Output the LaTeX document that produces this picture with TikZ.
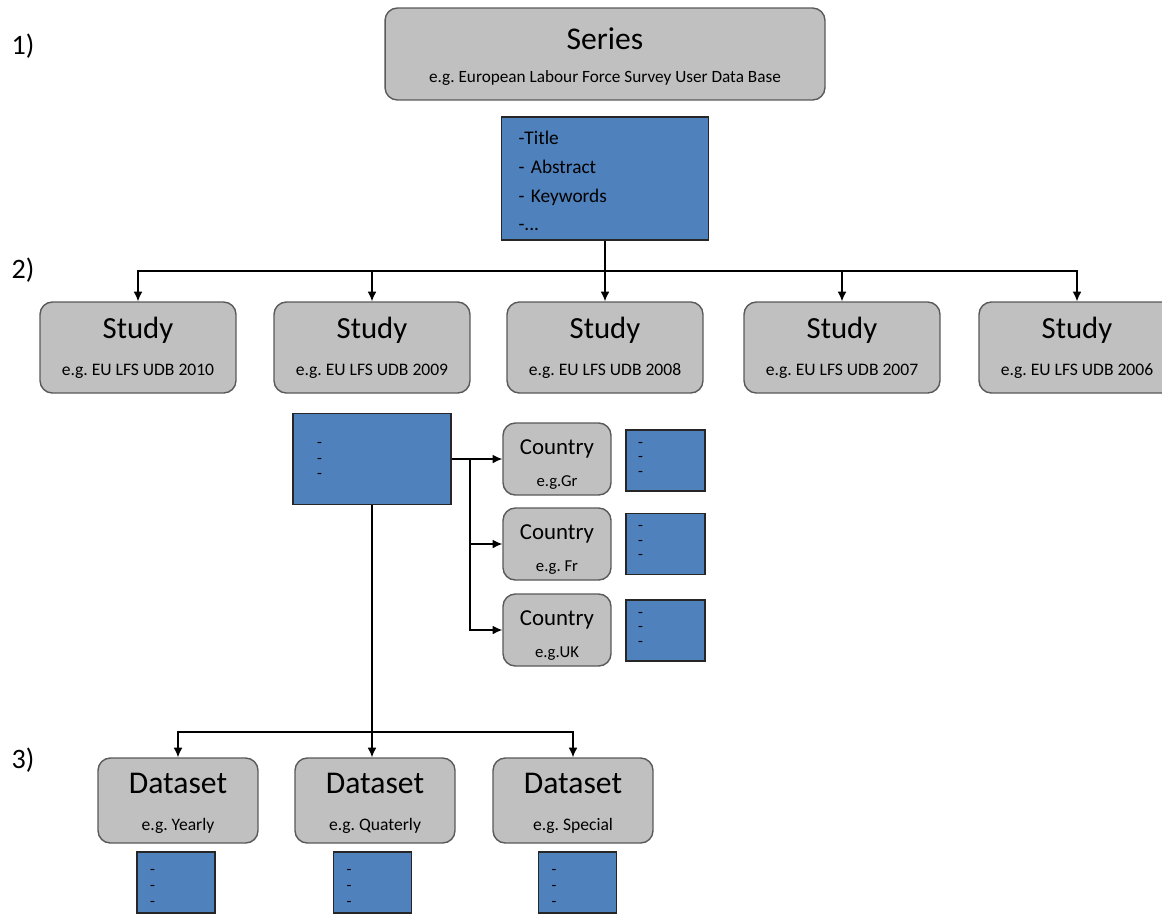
\documentclass[tikz,border=0pt]{standalone}
\usepackage{fontspec}
\setmainfont{Carlito}
\usepackage{tikz}
\usetikzlibrary{arrows.meta}
\usetikzlibrary{calc}
\definecolor{lvlgray}{RGB}{192,192,192}
\definecolor{metablue}{RGB}{79,129,189}
\tikzstyle{lvl} = [draw=black!65,fill=lvlgray,line width=0.8pt,rounded corners=7pt,align=center,inner sep=0pt,font=\fontsize{10}{21}\selectfont]
\tikzstyle{meta} = [draw=black!85,fill=metablue,line width=0.7pt,align=left,inner sep=0pt]
\tikzstyle{dashes} = [meta,font=\fontsize{9}{8.2}\selectfont]
\tikzstyle{tag} = [font=\fontsize{16}{16}\selectfont]

\begin{document}
\begin{tikzpicture}[>={Latex[length=5.5pt,width=5pt]},x=0.02cm,y=-0.02cm,line width=0.75pt]
\useasboundingbox (0,0) rectangle (1162,914);
\clip (0,0) rectangle (1162,914);

% Level numbers
    \node[tag] at (23,46) (lab1) {1)};
    \node[tag] at (23,270) (lab2) {2)};
    \node[tag] at (23,760) (lab3) {3)};

% Series with its metadata
    \node[lvl,minimum width=8.8cm,minimum height=1.84cm,font=\fontsize{9.8}{19}\selectfont] at (605,54) (series) {\rule{0pt}{15.2pt}{\fontsize{18}{18}\selectfont Series}\\e.g.\ European Labour Force Survey User Data Base};
    \node[meta,minimum width=4.14cm,minimum height=2.46cm,text width=3.46cm,font=\fontsize{11}{16.4}\selectfont] at (605,178.5) (smeta) {\rule{0pt}{10.5pt}-Title\\- Abstract\\- Keywords\\-...};

% Studies
    \def\sy{347.5}
    \node[lvl,minimum width=3.92cm,minimum height=1.82cm] at (138,\sy) (study1) {{\fontsize{17.5}{17.5}\selectfont Study}\\e.g.\ EU LFS UDB 2010};
    \node[lvl,minimum width=3.92cm,minimum height=1.82cm] at (372,\sy) (study2) {{\fontsize{17.5}{17.5}\selectfont Study}\\e.g.\ EU LFS UDB 2009};
    \node[lvl,minimum width=3.92cm,minimum height=1.82cm] at (605,\sy) (study3) {{\fontsize{17.5}{17.5}\selectfont Study}\\e.g.\ EU LFS UDB 2008};
    \node[lvl,minimum width=3.92cm,minimum height=1.82cm] at (842,\sy) (study4) {{\fontsize{17.5}{17.5}\selectfont Study}\\e.g.\ EU LFS UDB 2007};
    \node[lvl,minimum width=3.92cm,minimum height=1.82cm] at (1077,\sy) (study5) {{\fontsize{17.5}{17.5}\selectfont Study}\\e.g.\ EU LFS UDB 2006};

    \coordinate (ssplit) at (605,271);
    \draw (smeta.south) -- (ssplit);
    \draw[->] (ssplit) -| (study1.north);
    \draw[->] (ssplit) -| (study2.north);
    \draw[->] (ssplit) -- (study3.north);
    \draw[->] (ssplit) -| (study4.north);
    \draw[->] (ssplit) -| (study5.north);

% Study metadata and countries
    \node[dashes,minimum width=3.16cm,minimum height=1.82cm,text width=2.2cm,font=\fontsize{9}{8.8}\selectfont,text depth=15.5pt] at (372,459) (stmeta) {-\\-\\-};

    \node[lvl,minimum width=2.16cm,minimum height=1.44cm,font=\fontsize{9.5}{18}\selectfont] at (557,459) (country1) {\rule{0pt}{15pt}{\fontsize{13}{13}\selectfont Country}\\e.g.Gr};
    \node[lvl,minimum width=2.16cm,minimum height=1.44cm,font=\fontsize{9.5}{18}\selectfont] at (557,544) (country2) {\rule{0pt}{15pt}{\fontsize{13}{13}\selectfont Country}\\e.g.\ Fr};
    \node[lvl,minimum width=2.16cm,minimum height=1.44cm,font=\fontsize{9.5}{18}\selectfont] at (557,630) (country3) {\rule{0pt}{15pt}{\fontsize{13}{13}\selectfont Country}\\e.g.UK};

    \node[dashes,minimum width=1.58cm,minimum height=1.22cm,text width=1.1cm,text depth=18pt] at (665.5,460.5) (cmeta1) {-\\-\\-};
    \node[dashes,minimum width=1.58cm,minimum height=1.22cm,text width=1.1cm,text depth=18pt] at (665.5,544) (cmeta2) {-\\-\\-};
    \node[dashes,minimum width=1.58cm,minimum height=1.22cm,text width=1.1cm,text depth=18pt] at (665.5,630.5) (cmeta3) {-\\-\\-};

    \coordinate (csplit) at (470,459);
    \draw[->] (stmeta.east) -- (country1.west);
    \draw[->] (csplit) |- (country2.west);
    \draw[->] (csplit) |- (country3.west);

% Datasets
    \def\dy{800.5}
    \node[lvl,minimum width=3.2cm,minimum height=1.7cm] at (178,\dy) (data1) {\rule{0pt}{14.6pt}{\fontsize{18}{18}\selectfont Dataset}\\e.g.\ Yearly};
    \node[lvl,minimum width=3.2cm,minimum height=1.7cm] at (375,\dy) (data2) {\rule{0pt}{14.6pt}{\fontsize{18}{18}\selectfont Dataset}\\e.g.\ Quaterly};
    \node[lvl,minimum width=3.2cm,minimum height=1.7cm] at (573,\dy) (data3) {\rule{0pt}{14.6pt}{\fontsize{18}{18}\selectfont Dataset}\\e.g.\ Special};

    \coordinate (dsplit) at (372,732);
    \draw[->] (stmeta.south) -- (stmeta.south |- data2.north);
    \draw[->] (dsplit) -| (data1.north);
    \draw[->] (dsplit) -| (data3.north);

    \node[dashes,minimum width=1.56cm,minimum height=1.22cm,text width=1.04cm,font=\fontsize{9}{9}\selectfont,text depth=12pt] at (176,882.5) (dmeta1) {-\\-\\-};
    \node[dashes,minimum width=1.56cm,minimum height=1.22cm,text width=1.04cm,font=\fontsize{9}{9}\selectfont,text depth=12pt] at (372.5,882.5) (dmeta2) {-\\-\\-};
    \node[dashes,minimum width=1.56cm,minimum height=1.22cm,text width=1.04cm,font=\fontsize{9}{9}\selectfont,text depth=12pt] at (577.5,882.5) (dmeta3) {-\\-\\-};

\end{tikzpicture}
\end{document}
